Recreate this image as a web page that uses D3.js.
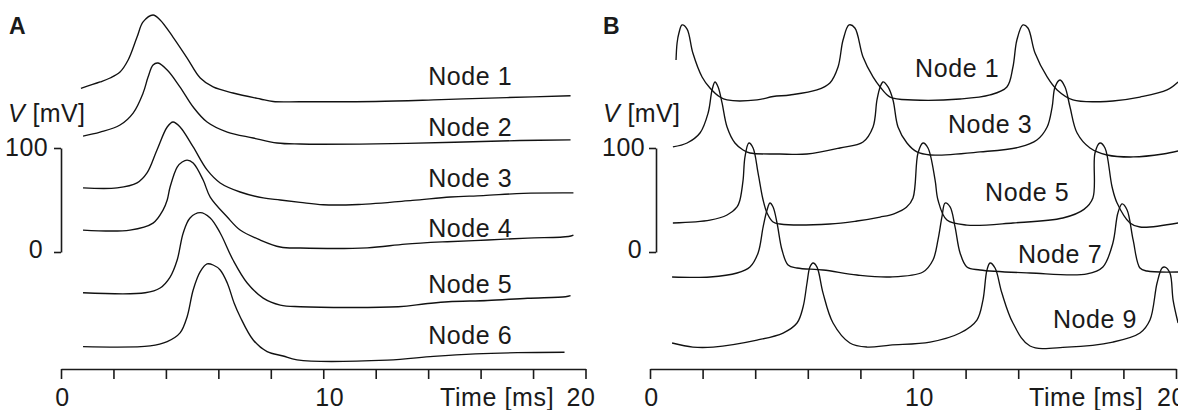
<!DOCTYPE html>
<html>
<head>
<meta charset="utf-8">
<script src="https://cdn.jsdelivr.net/npm/d3@7"></script>
<style>
  html, body { margin: 0; padding: 0; background: #fff; }
  svg { display: block; }
  text { font-family: "Liberation Sans", Arial, sans-serif; fill: #1a1a1a; }
</style>
</head>
<body>
<svg id="chart" width="1178" height="410"></svg>
<script>
// ---------------- DATA ----------------
// Time axis ticks (ms) and which get labels
const timeTicks = [0, 2, 4, 6, 8, 10, 12, 14, 16, 18, 20];
const timeTickLabels = [0, 10, 20];
const voltScaleTicks = [0, 100];

// Panel A: membrane potential traces [time ms, V mV]
const nodeA1 = [[0.76,-57.6],[1.49,-51.5],[1.87,-47.7],[2.25,-41.9],[2.56,-30.4],[2.90,-8.3],[3.13,6.2],[3.51,12.9],[3.78,8.1],[4.27,-8.3],[4.81,-28.5],[5.31,-47.7],[5.80,-56.3],[6.56,-62.1],[7.60,-67.9],[8.09,-70.3],[9.12,-70.5],[12.0,-70.3],[14.5,-68.5],[17.0,-66.5],[19.43,-64.8]];
const nodeA2 = [[0.84,-62.5],[1.49,-58.7],[2.25,-51.9],[2.75,-40.4],[3.13,-21.2],[3.32,-5.8],[3.51,5.8],[3.70,7.7],[4.05,1.0],[4.54,-15.4],[5.04,-34.6],[5.57,-49.0],[6.34,-58.7],[7.33,-64.4],[8.24,-69.2],[9.12,-70.2],[12.0,-70.0],[15.0,-68.5],[17.5,-66.8],[19.43,-66.2]];
const nodeA3 = [[0.84,-54.4],[2.14,-54.4],[2.90,-49.6],[3.28,-40.0],[3.66,-17.9],[4.05,4.2],[4.27,9.0],[4.54,4.2],[5.04,-15.0],[5.57,-37.1],[6.07,-49.6],[6.83,-58.3],[7.71,-64.0],[8.36,-66.0],[9.12,-68.3],[10.0,-70.6],[11.34,-70.3],[13.4,-66.4],[14.85,-63.1],[16.1,-61.8],[17.63,-59.6],[19.54,-59.2]];
const nodeA4 = [[0.84,-52.9],[2.63,-52.9],[3.51,-46.2],[3.89,-33.7],[4.05,-24.0],[4.16,-11.5],[4.43,7.7],[4.62,12.5],[4.81,14.4],[5.04,11.5],[5.42,-4.8],[5.69,-21.2],[6.34,-40.4],[6.83,-52.9],[7.60,-62.5],[8.36,-69.2],[9.12,-70.2],[11.68,-70.0],[13.13,-66.4],[14.73,-64.1],[16.26,-62.5],[17.79,-60.6],[19.35,-59.1],[19.54,-57.7]];
const nodeA5 = [[0.84,-56.2],[3.21,-56.2],[3.78,-51.6],[4.16,-41.1],[4.43,-24.7],[4.66,1.3],[4.92,15.7],[5.31,20.8],[5.69,15.7],[6.07,1.3],[6.56,-24.7],[7.10,-46.8],[7.71,-61.3],[8.36,-68.0],[9.12,-69.6],[12.86,-69.6],[13.9,-66.8],[14.77,-64.8],[16.26,-63.6],[17.79,-61.5],[19.24,-60.0],[19.43,-59.0]];
const nodeA6 = [[0.84,-57.0],[3.40,-56.3],[4.05,-52.2],[4.54,-43.8],[4.81,-28.2],[5.04,-2.5],[5.31,15.1],[5.57,22.5],[5.80,21.5],[6.07,16.7],[6.34,4.2],[6.60,-15.0],[6.83,-28.2],[7.33,-50.6],[7.86,-61.8],[8.47,-66.0],[9.0,-69.8],[12.44,-70.0],[14.2,-66.4],[15.8,-64.0],[17.4,-62.8],[19.2,-62.4]];

// Panel B: membrane potential traces [time ms, V mV]
const nodeB1 = [[0.99,-30.4],[1.03,-14.0],[1.10,-4.4],[1.22,3.3],[1.41,-0.6],[1.63,-23.7],[1.98,-46.7],[2.28,-57.3],[2.66,-66.0],[2.93,-68.8],[4.07,-68.8],[4.68,-65.5],[5.32,-64.0],[6.35,-59.2],[6.84,-52.5],[7.15,-37.1],[7.34,-11.2],[7.57,3.3],[7.79,0.4],[8.10,-27.5],[8.48,-46.7],[8.75,-56.3],[9.13,-66.0],[10.0,-68.8],[11.79,-67.9],[12.93,-64.0],[13.57,-56.3],[13.80,-37.1],[13.95,-11.2],[14.18,3.3],[14.37,0.4],[14.64,-23.7],[15.10,-46.7],[15.48,-59.2],[16.08,-68.8],[17.11,-70.5],[17.6,-69.8],[18.63,-66.0],[19.66,-59.2],[20.08,-51.5]];
const nodeB3 = [[0.87,-62.0],[1.41,-58.2],[1.90,-48.6],[2.21,-29.3],[2.36,-7.2],[2.47,0.5],[2.59,-4.3],[2.74,-19.7],[2.93,-42.8],[3.23,-58.2],[3.54,-64.9],[3.80,-67.8],[4.94,-68.8],[5.97,-68.8],[7.22,-63.0],[8.10,-57.2],[8.48,-42.8],[8.63,-16.8],[8.75,-4.3],[8.86,0.5],[9.05,-4.3],[9.24,-16.8],[9.43,-42.8],[9.77,-58.2],[10.15,-66.8],[10.65,-69.7],[12.55,-66.8],[14.07,-62.0],[14.71,-55.3],[15.10,-42.8],[15.29,-23.6],[15.40,-4.3],[15.59,2.4],[15.78,-4.3],[15.97,-23.6],[16.24,-48.6],[16.73,-63.0],[17.38,-69.7],[18.37,-71.6],[19.51,-68.8],[20.08,-65.9]];
const nodeB5 = [[0.87,-69.1],[2.28,-66.3],[2.93,-61.4],[3.31,-53.7],[3.42,-47.0],[3.54,-27.8],[3.61,-5.7],[3.76,7.8],[3.92,3.0],[4.11,-21.1],[4.30,-47.0],[4.45,-59.5],[4.68,-68.2],[4.94,-70.1],[6.84,-70.1],[7.87,-67.2],[8.75,-63.4],[9.3,-60.0],[9.75,-54.0],[10.0,-45.0],[10.19,-1.8],[10.38,7.8],[10.57,3.0],[10.84,-27.8],[10.95,-47.0],[11.29,-66.3],[12.05,-71.1],[13.80,-69.1],[15.70,-64.3],[16.50,-56.0],[16.84,-45.0],[16.92,-1.8],[17.11,7.8],[17.30,3.0],[17.57,-34.5],[17.76,-49.9],[18.25,-69.1],[18.63,-73.0],[20.08,-69.1]];
const nodeB7 = [[0.84,-72.0],[2.28,-72.0],[3.31,-68.2],[3.80,-62.4],[4.11,-48.9],[4.30,-24.0],[4.45,-7.6],[4.56,-0.9],[4.68,-4.7],[4.83,-20.1],[5.02,-46.1],[5.25,-60.5],[5.59,-63.4],[6.58,-65.3],[7.87,-70.1],[9.13,-72.0],[10.38,-67.2],[10.76,-55.7],[10.95,-36.4],[11.10,-14.3],[11.22,-0.9],[11.41,-4.7],[11.60,-24.0],[11.79,-48.9],[12.05,-62.4],[12.55,-65.3],[14.45,-68.2],[16.62,-69.1],[17.22,-62.4],[17.60,-39.3],[17.79,-10.5],[17.95,-1.8],[18.14,-7.6],[18.37,-36.4],[18.63,-63.4],[18.90,-66.3],[20.08,-67.2]];
const nodeB9 = [[0.84,-66.5],[1.63,-70.4],[2.40,-70.4],[4.07,-63.7],[5.06,-56.9],[5.59,-47.3],[5.82,-31.9],[5.97,-8.8],[6.08,6.5],[6.20,10.4],[6.35,6.5],[6.58,-18.5],[6.96,-47.3],[7.60,-66.5],[8.25,-70.4],[9.13,-68.5],[10.65,-65.6],[11.79,-56.9],[12.43,-44.4],[12.66,-25.2],[12.81,3.5],[12.93,10.4],[13.12,5.6],[13.38,-18.5],[13.80,-47.3],[14.45,-69.4],[15.86,-70.4],[17.60,-65.6],[18.63,-56.9],[19.01,-44.4],[19.28,-8.8],[19.47,5.6],[19.58,6.5],[19.77,0.8],[19.89,-25.2],[20.08,-47.3]];

// Series names and vertical trace offsets (mV) for stacking
const namesA = ["Node 1", "Node 2", "Node 3", "Node 4", "Node 5", "Node 6"];
const offsetsA = [215, 174, 116, 74, 17, -34];
const namesB = ["Node 1", "Node 3", "Node 5", "Node 7", "Node 9"];
const offsetsB = [215, 163, 97, 48, -21];
// label anchors [time ms, V mV]
const labelAnchorsA = [[14.0,-54.4],[14.0,-62.5],[14.0,-53.5],[14.0,-59.6],[14.0,-56.4],[14.0,-54.4]];
const labelAnchorsB = [[10.08,-46.7],[11.33,-48.6],[12.74,-48.0],[13.99,-58.6],[15.32,-52.1]];

const tracesA = [nodeA1, nodeA2, nodeA3, nodeA4, nodeA5, nodeA6];
const tracesB = [nodeB1, nodeB3, nodeB5, nodeB7, nodeB9];

// ---------------- DRAW ----------------
const svg = d3.select("#chart");
const FONT = 25;
const ink = "#1a1a1a";

// shared voltage scale (scale bar 0..100 mV)
const yScale = d3.scaleLinear().domain([0, 100]).range([252, 148]);

function panel(opts) {
  const { x0, x1, letter, letterX, traces, offsets, names, anchors, barX, labDx } = opts;
  const xScale = d3.scaleLinear().domain([0, 20]).range([x0, x1]);
  const g = svg.append("g");

  // traces
  const line = d3.line().curve(d3.curveCatmullRom.alpha(0.5));
  traces.forEach((tr, i) => {
    g.append("path")
      .attr("d", line(tr.map(d => [xScale(d[0]), yScale(d[1] + offsets[i])])))
      .attr("fill", "none")
      .attr("stroke", "#111")
      .attr("stroke-width", 1.35)
      .attr("stroke-linejoin", "round");
  });

  // node labels
  names.forEach((n, i) => {
    g.append("text")
      .attr("x", xScale(anchors[i][0]))
      .attr("y", yScale(anchors[i][1] + offsets[i]))
      .attr("font-size", FONT)
      .attr("letter-spacing", 0.6)
      .text(n);
  });

  // time axis
  const xAxis = d3.axisBottom(xScale)
    .tickValues(timeTicks)
    .tickSize(10)
    .tickSizeOuter(0)
    .tickFormat(d => timeTickLabels.includes(d) ? d : "");
  const ax = g.append("g").attr("transform", "translate(0,369)").call(xAxis);
  ax.select(".domain").attr("stroke", ink).attr("stroke-width", 1.6);
  ax.selectAll(".tick line").attr("stroke", ink).attr("stroke-width", 1.6);
  ax.selectAll(".tick text")
    .attr("font-family", null)
    .attr("font-size", FONT)
    .attr("fill", ink)
    .attr("y", 37)
    .attr("dy", 0)
    .attr("dx", d => d === 10 ? 6 : (d === 20 ? -5 : 1))
    .attr("letter-spacing", 0.6);
  g.append("text")
    .attr("x", xScale(0) + 379)
    .attr("y", 406)
    .attr("font-size", FONT)
    .attr("letter-spacing", 0.6)
    .text("Time [ms]");

  // voltage scale bar
  const yAxis = d3.axisLeft(yScale)
    .tickValues(voltScaleTicks)
    .tickSize(7)
    .tickSizeOuter(0)
    .tickFormat(d => d);
  const ay = g.append("g").attr("transform", `translate(${barX},0)`).call(yAxis);
  ay.select(".domain").attr("stroke", ink).attr("stroke-width", 1.6);
  ay.selectAll(".tick line").attr("stroke", ink).attr("stroke-width", 1.6);
  ay.selectAll(".tick text")
    .attr("font-family", null)
    .attr("font-size", FONT)
    .attr("fill", ink)
    .attr("x", d => d === 100 ? labDx[0] : labDx[1])
    .attr("dy", 0)
    .attr("y", d => d === 100 ? 7 : 5)
    .attr("letter-spacing", 0.4);

  // V [mV] label
  const vt = g.append("text")
    .attr("x", barX - 53)
    .attr("y", 122)
    .attr("font-size", FONT)
    .attr("letter-spacing", 0.4);
  vt.append("tspan").attr("font-style", "italic").text("V");
  vt.append("tspan").text(" [mV]");

  // panel letter
  g.append("text")
    .attr("x", letterX)
    .attr("y", 34)
    .attr("font-size", 23)
    .attr("font-weight", "bold")
    .text(letter);
}

panel({ x0: 61, x1: 585.5, letter: "A", letterX: 9, traces: tracesA, offsets: offsetsA,
        names: namesA, anchors: labelAnchorsA, barX: 61, labDx: [-13, -18] });
panel({ x0: 650, x1: 1176, letter: "B", letterX: 603, traces: tracesB, offsets: offsetsB,
        names: namesB, anchors: labelAnchorsB, barX: 656, labDx: [-11, -14] });
</script>
</body>
</html>
